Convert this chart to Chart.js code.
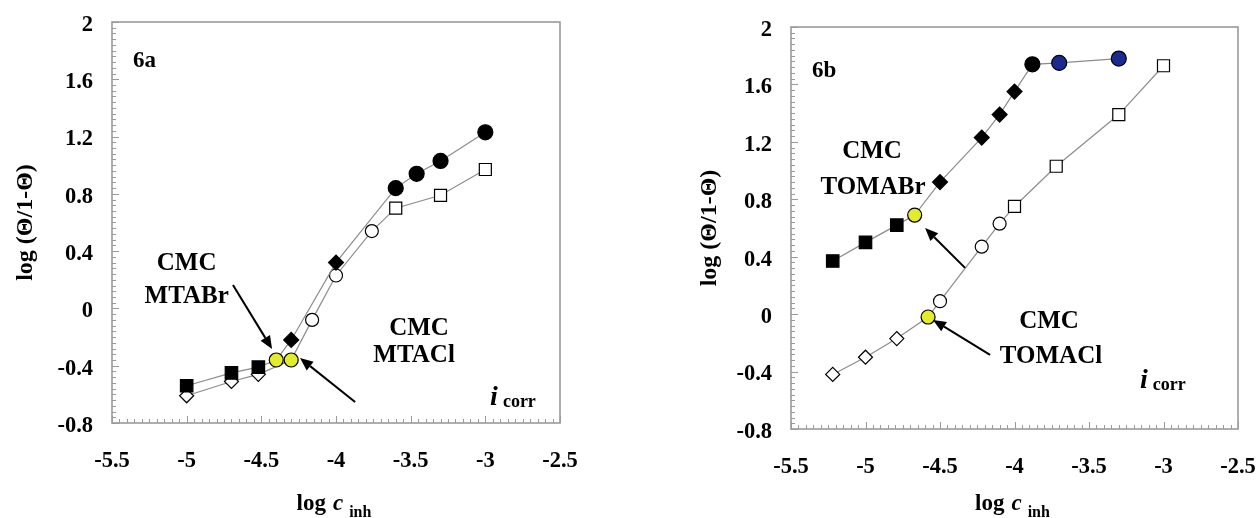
<!DOCTYPE html>
<html>
<head>
<meta charset="utf-8">
<script src="https://cdn.jsdelivr.net/npm/chart.js@4.4.1/dist/chart.umd.min.js"></script>
<style>
  html, body { margin: 0; padding: 0; background: #fff; overflow: hidden; }
  #wrap { position: relative; width: 1258px; height: 518px; }
  .pane { position: absolute; top: 0; width: 629px; height: 518px; }
</style>
</head>
<body>
<div id="wrap">
  <div class="pane" style="left:0"><canvas id="c6a" width="629" height="518"></canvas></div>
  <div class="pane" style="left:629px"><canvas id="c6b" width="629" height="518"></canvas></div>
</div>
<script>
var FONT = "'Liberation Serif', 'Times New Roman', serif";
var W = 629, H = 518;

// axis ticks, same for both panels
var xTicks = [-5.5, -5, -4.5, -4, -3.5, -3, -2.5];
var yTicks = [-0.8, -0.4, 0, 0.4, 0.8, 1.2, 1.6, 2];

// 6a - MTABr
var mtabrX = [-5, -4.7, -4.52, -4.4, -4.3, -4, -3.6, -3.46, -3.3, -3];
var mtabrY = [-0.54, -0.45, -0.41, -0.36, -0.22, 0.32, 0.84, 0.94, 1.03, 1.23];
var mtabrMark = ['sq', 'sq', 'sq', 'cmc', 'dm', 'dm', 'dot', 'dot', 'dot', 'dot'];

// 6a - MTACl
var mtaclX = [-5, -4.7, -4.52, -4.3, -4.16, -4, -3.76, -3.6, -3.3, -3];
var mtaclY = [-0.61, -0.51, -0.46, -0.36, -0.08, 0.23, 0.54, 0.70, 0.79, 0.97];
var mtaclMark = ['dmo', 'dmo', 'dmo', 'cmc', 'doto', 'doto', 'doto', 'sqo', 'sqo', 'sqo'];

// 6b - TOMABr
var tomabrX = [-5.22, -5, -4.79, -4.67, -4.5, -4.22, -4.1, -4, -3.88, -3.7, -3.3];
var tomabrY = [0.37, 0.5, 0.62, 0.69, 0.92, 1.23, 1.39, 1.55, 1.74, 1.75, 1.78];
var tomabrMark = ['sq', 'sq', 'sq', 'cmc', 'dm', 'dm', 'dm', 'dm', 'dot', 'blue', 'blue'];

// 6b - TOMACl
var tomaclX = [-5.22, -5, -4.79, -4.58, -4.5, -4.22, -4.1, -4, -3.72, -3.3, -3];
var tomaclY = [-0.42, -0.3, -0.17, -0.02, 0.09, 0.47, 0.63, 0.75, 1.03, 1.39, 1.73];
var tomaclMark = ['dmo', 'dmo', 'dmo', 'cmc', 'doto', 'doto', 'doto', 'sqo', 'sqo', 'sqo', 'sqo'];

// marker look per kind
var marks = {
  sq:   { shape: 'rect',    fill: '#000000', r: 8.8 },
  sqo:  { shape: 'rect',    fill: '#ffffff', r: 8.5 },
  dm:   { shape: 'rectRot', fill: '#000000', r: 7.5 },
  dmo:  { shape: 'rectRot', fill: '#ffffff', r: 7 },
  dot:  { shape: 'circle',  fill: '#000000', r: 7.5 },
  doto: { shape: 'circle',  fill: '#ffffff', r: 6.5 },
  cmc:  { shape: 'circle',  fill: '#e2ec2c', r: 7 },
  blue: { shape: 'circle',  fill: '#1b2a8e', r: 7.5 }
};

function series(xs, ys, kinds) {
  return {
    data: xs.map(function (x, i) { return { x: x, y: ys[i] }; }),
    showLine: true,
    borderColor: '#8c8c8c',
    borderWidth: 1.2,
    pointStyle: kinds.map(function (k) { return marks[k].shape; }),
    pointBackgroundColor: kinds.map(function (k) { return marks[k].fill; }),
    pointBorderColor: '#000',
    pointBorderWidth: 1.2,
    pointRadius: kinds.map(function (k) { return marks[k].r; }),
    pointHoverRadius: kinds.map(function (k) { return marks[k].r; })
  };
}

// plot frame plus the small inward ticks on the left and bottom edges
var frame = {
  id: 'frame',
  beforeDatasetsDraw: function (chart) {
    var c = chart.ctx, a = chart.chartArea, xs = chart.scales.x, ys = chart.scales.y;
    c.save();
    c.strokeStyle = '#9a9a9a';
    c.lineWidth = 1;
    c.beginPath();
    for (var i = 0; i <= 70; i++) {
      var py = Math.round(ys.getPixelForValue(-0.8 + i * 0.04)) + 0.5;
      var len = i % 10 === 0 ? 7 : 4;
      c.moveTo(a.left, py); c.lineTo(a.left + len, py);
    }
    for (var j = 0; j <= 60; j++) {
      var px = Math.round(xs.getPixelForValue(-5.5 + j * 0.05)) + 0.5;
      var l2 = j % 10 === 0 ? 7 : 4;
      c.moveTo(px, a.bottom); c.lineTo(px, a.bottom - l2);
    }
    c.stroke();
    c.lineWidth = 1.6;
    c.strokeRect(a.left, a.top, a.right - a.left, a.bottom - a.top);
    c.restore();
  }
};

function arrow(c, x1, y1, x2, y2) {
  var ang = Math.atan2(y2 - y1, x2 - x1), L = 13, w = 5.5;
  var bx = x2 - L * Math.cos(ang), by = y2 - L * Math.sin(ang);
  c.lineWidth = 2;
  c.beginPath(); c.moveTo(x1, y1); c.lineTo(bx, by); c.stroke();
  c.beginPath();
  c.moveTo(x2, y2);
  c.lineTo(bx + w * Math.sin(ang), by - w * Math.cos(ang));
  c.lineTo(bx - w * Math.sin(ang), by + w * Math.cos(ang));
  c.closePath(); c.fill();
}

// draws text pieces of different fonts one after another
function run(c, parts, x, y, align) {
  var total = 0;
  parts.forEach(function (p) { c.font = p.f; p.w = c.measureText(p.t).width; total += (p.dx || 0) + p.w; });
  var cx = align === 'center' ? x - total / 2 : x;
  c.textAlign = 'left';
  c.textBaseline = 'alphabetic';
  parts.forEach(function (p) {
    cx += p.dx || 0;
    c.font = p.f;
    c.fillText(p.t, cx, y + (p.dy || 0));
    cx += p.w;
  });
}

function annot(n) {
  return {
    id: 'annot',
    afterDraw: function (chart) {
      var c = chart.ctx, a = chart.chartArea, xs = chart.scales.x, ys = chart.scales.y;
      c.save();
      c.fillStyle = '#000';
      c.strokeStyle = '#000';
      c.textBaseline = 'alphabetic';
      n.texts.forEach(function (t) {
        c.font = 'bold ' + (t.size || 25) + 'px ' + FONT;
        c.textAlign = t.align || 'center';
        c.fillText(t.t, xs.getPixelForValue(t.x), ys.getPixelForValue(t.y));
      });
      n.arrows.forEach(function (r) {
        arrow(c, xs.getPixelForValue(r[0]), ys.getPixelForValue(r[1]),
                 xs.getPixelForValue(r[2]), ys.getPixelForValue(r[3]));
      });
      run(c, [
        { t: 'i', f: 'italic bold 28px ' + FONT },
        { t: 'corr', f: 'bold 18px ' + FONT, dx: 5, dy: 2 }
      ], xs.getPixelForValue(n.icorr[0]), ys.getPixelForValue(n.icorr[1]), 'left');
      run(c, [
        { t: 'log', f: 'bold 23px ' + FONT },
        { t: 'c', f: 'italic bold 23px ' + FONT, dx: 7 },
        { t: 'inh', f: 'bold 16px ' + FONT, dx: 6, dy: 7 }
      ], (a.left + a.right) / 2 - 2, 510, 'center');
      c.translate(n.yTitleX, (a.top + a.bottom) / 2);
      c.rotate(-Math.PI / 2);
      c.font = 'bold 24px ' + FONT;
      c.textAlign = 'center';
      c.textBaseline = 'middle';
      c.fillText('log (\u0398/1-\u0398)', 0, 0);
      c.restore();
    }
  };
}

function panel(id, sets, box, notes) {
  var tickFont = { family: FONT, size: 22.5, weight: 'bold' };
  return new Chart(document.getElementById(id), {
    type: 'scatter',
    data: { datasets: sets },
    options: {
      responsive: false,
      animation: false,
      events: [],
      layout: { padding: { left: 0, top: box.top, right: W - box.right, bottom: 0 } },
      plugins: { legend: { display: false }, tooltip: { enabled: false } },
      scales: {
        x: {
          type: 'linear', min: -5.5, max: -2.5,
          grid: { display: false, drawTicks: false },
          border: { display: false },
          afterBuildTicks: function (s) { s.ticks = xTicks.map(function (v) { return { value: v }; }); },
          afterFit: function (s) {
            s.height = H - box.bottom;
            s.paddingLeft = 0; s.paddingRight = 0;
          },
          ticks: {
            padding: 25, color: '#000', font: tickFont, maxRotation: 0, autoSkip: false,
            callback: function (v) { return String(v); }
          }
        },
        y: {
          type: 'linear', min: -0.8, max: 2,
          grid: { display: false, drawTicks: false },
          border: { display: false },
          afterBuildTicks: function (s) { s.ticks = yTicks.map(function (v) { return { value: v }; }); },
          afterFit: function (s) {
            s.width = box.left;
            s.paddingTop = 0; s.paddingBottom = 0;
          },
          ticks: {
            padding: 19, color: '#000', font: tickFont, autoSkip: false, labelOffset: 3,
            callback: function (v) { return String(v); }
          }
        }
      }
    },
    plugins: [frame, annot(notes)]
  });
}

panel('c6a',
  [series(mtabrX, mtabrY, mtabrMark), series(mtaclX, mtaclY, mtaclMark)],
  { left: 112, right: 560, top: 22, bottom: 423 },
  {
    texts: [
      { t: '6a', x: -5.36, y: 1.686, align: 'left', size: 23 },
      { t: 'CMC', x: -5.0, y: 0.268 },
      { t: 'MTABr', x: -5.0, y: 0.038 },
      { t: 'CMC', x: -3.444, y: -0.186 },
      { t: 'MTACl', x: -3.477, y: -0.374 }
    ],
    arrows: [[-4.69, 0.163, -4.428, -0.283], [-3.872, -0.654, -4.241, -0.346]],
    icorr: [-2.968, -0.675],
    yTitleX: 26
  });

panel('c6b',
  [series(tomabrX, tomabrY, tomabrMark), series(tomaclX, tomaclY, tomaclMark)],
  { left: 162, right: 609, top: 27, bottom: 429 },
  {
    texts: [
      { t: '6b', x: -5.359, y: 1.652, align: 'left', size: 23 },
      { t: 'CMC', x: -4.956, y: 1.088 },
      { t: 'TOMABr', x: -4.95, y: 0.837 },
      { t: 'CMC', x: -3.768, y: -0.096 },
      { t: 'TOMACl', x: -3.755, y: -0.34 }
    ],
    arrows: [[-4.332, 0.322, -4.60, 0.60], [-4.164, -0.284, -4.547, -0.04]],
    icorr: [-3.158, -0.514],
    yTitleX: 81
  });
</script>
</body>
</html>
